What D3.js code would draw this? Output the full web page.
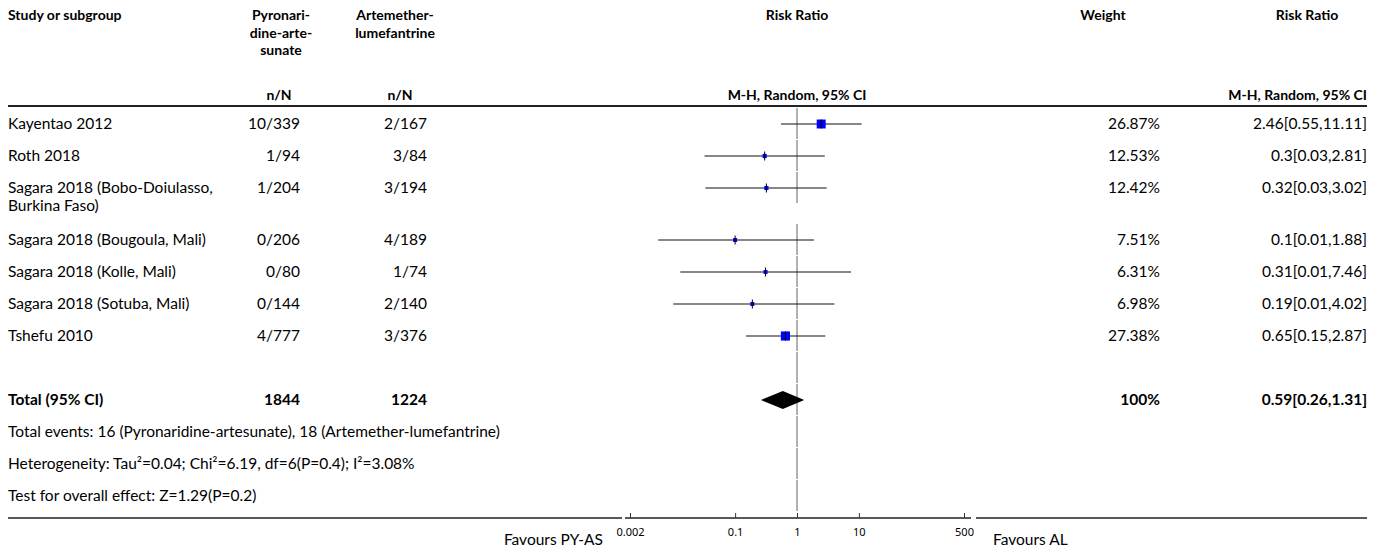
<!DOCTYPE html>
<html>
<head>
<meta charset="utf-8">
<script src="https://cdn.jsdelivr.net/npm/d3@7"></script>
<style>
  body { margin: 0; background: #fff; }
  svg text { font-family: "Source Sans Pro", Lato, "Noto Sans", sans-serif; fill: #000; }
</style>
</head>
<body>
<div id="chart"></div>
<script>
// study level data
var studies = ["Kayentao 2012", "Roth 2018", "Sagara 2018 (Bobo-Doiulasso, Burkina Faso)",
    "Sagara 2018 (Bougoula, Mali)", "Sagara 2018 (Kolle, Mali)", "Sagara 2018 (Sotuba, Mali)", "Tshefu 2010"]
var pyEvents = [10, 1, 1, 0, 0, 0, 4]
var pyTotal = [339, 94, 204, 206, 80, 144, 777]
var alEvents = [2, 3, 3, 4, 1, 2, 3]
var alTotal = [167, 84, 194, 189, 74, 140, 376]
var weights = [26.87, 12.53, 12.42, 7.51, 6.31, 6.98, 27.38]
var rr = [2.46, 0.3, 0.32, 0.1, 0.31, 0.19, 0.65]
// lower limits (printed rounded to 2 decimals)
var rrLow = [0.55, 0.032, 0.033, 0.0057, 0.013, 0.01, 0.15]
var rrHigh = [11.11, 2.81, 3.02, 1.88, 7.46, 4.02, 2.87]

// pooled
var totalPy = 1844, totalAl = 1224
var pooled = [0.59, 0.26, 1.31]
var footNotes = [
    "Total events: 16 (Pyronaridine-artesunate), 18 (Artemether-lumefantrine)",
    "Heterogeneity: Tau²=0.04; Chi²=6.19, df=6(P=0.4); I²=3.08%",
    "Test for overall effect: Z=1.29(P=0.2)"
]
var axisTicks = [0.002, 0.1, 1, 10, 500]
var favours = ["Favours PY-AS", "Favours AL"]

var W = 1375, H = 550
var fs = 15.5, hfs = 14
var col = {name: 8, py: 300, al: 427, plot: 797, wt: 1160, rr: 1367}
var rowH = 32, firstRowY = 108

function r2(v){ return +v.toFixed(2) }
function ciText(a, b, c){ return r2(a) + "[" + r2(b) + "," + r2(c) + "]" }

var svg = d3.select("#chart").append("svg").attr("width", W).attr("height", H)

var x = d3.scaleLog().domain([0.002, 500]).range([630, 964])

// header
var hdr = svg.append("g").style("font-weight", "bold").style("font-size", hfs + "px")
function hText(tx, ty, s, anchor){
    hdr.append("text").attr("x", tx).attr("y", ty).attr("text-anchor", anchor).text(s)
}
hText(col.name, 20, "Study or subgroup", "start")
;["Pyronari-", "dine-arte-", "sunate"].forEach(function(s, i){ hText(281, 20 + i * 17.5, s, "middle") })
;["Artemether-", "lumefantrine"].forEach(function(s, i){ hText(395, 20 + i * 17.5, s, "middle") })
hText(col.plot, 20, "Risk Ratio", "middle")
hText(1103, 20, "Weight", "middle")
hText(1307, 20, "Risk Ratio", "middle")
hText(279, 100, "n/N", "middle")
hText(400, 100, "n/N", "middle")
hText(col.plot, 100, "M-H, Random, 95% CI", "middle")
hText(col.rr, 100, "M-H, Random, 95% CI", "end")

svg.append("line").attr("x1", 8).attr("x2", 1367).attr("y1", 106).attr("y2", 106)
    .attr("stroke", "#222").attr("stroke-width", 2)

// row layout
var rowTops = []
var y0 = firstRowY
studies.forEach(function(s, i){
    rowTops.push(y0)
    y0 += (s.length > 32 ? 52 : rowH)
})
var blankTop = y0
var totalTop = y0 + rowH
var footTops = footNotes.map(function(d, i){ return totalTop + rowH * (i + 1) })

// null line, drawn per row
var segTops = rowTops.concat([blankTop, totalTop]).concat(footTops)
svg.append("g").selectAll("line").data(segTops).enter().append("line")
    .attr("x1", x(1)).attr("x2", x(1))
    .attr("y1", function(d){ return d }).attr("y2", function(d){ return d + rowH - 1 })
    .attr("stroke", "#999").attr("stroke-width", 1.5)

// study rows
var rows = svg.append("g").style("font-size", fs + "px")
studies.forEach(function(s, i){
    var cy = rowTops[i] + 16
    var ty = cy + 5
    // wrap long names
    var words = s.split(" "), lines = [], cur = ""
    words.forEach(function(w){
        if((cur + " " + w).trim().length > 29 && cur){ lines.push(cur); cur = w }
        else cur = (cur + " " + w).trim()
    })
    lines.push(cur)
    lines.forEach(function(l, j){
        rows.append("text").attr("x", col.name).attr("y", ty + j * 18).text(l)
    })
    rows.append("text").attr("x", col.py).attr("y", ty).attr("text-anchor", "end").text(pyEvents[i] + "/" + pyTotal[i])
    rows.append("text").attr("x", col.al).attr("y", ty).attr("text-anchor", "end").text(alEvents[i] + "/" + alTotal[i])
    rows.append("text").attr("x", col.wt).attr("y", ty).attr("text-anchor", "end").text(weights[i] + "%")
    rows.append("text").attr("x", col.rr).attr("y", ty).attr("text-anchor", "end")
        .text(ciText(rr[i], rrLow[i], rrHigh[i]))

    // CI line
    rows.append("line").attr("x1", x(rrLow[i])).attr("x2", x(rrHigh[i]))
        .attr("y1", cy).attr("y2", cy).attr("stroke", "#111").attr("stroke-width", 1.2)
    var sz = Math.max(4, weights[i] / 3)
    rows.append("rect").attr("x", x(rr[i]) - sz / 2).attr("y", cy - sz / 2)
        .attr("width", sz).attr("height", sz).attr("fill", "#0000ff")
    rows.append("line").attr("x1", x(rr[i])).attr("x2", x(rr[i]))
        .attr("y1", cy - 4.5).attr("y2", cy + 4.5).attr("stroke", "#000").attr("stroke-width", 1)
})

// total row
var tcy = totalTop + 16
var tot = svg.append("g").style("font-size", fs + "px").style("font-weight", "bold")
tot.append("text").attr("x", col.name).attr("y", tcy + 5).text("Total (95% CI)")
tot.append("text").attr("x", col.py).attr("y", tcy + 5).attr("text-anchor", "end").text(totalPy)
tot.append("text").attr("x", col.al).attr("y", tcy + 5).attr("text-anchor", "end").text(totalAl)
tot.append("text").attr("x", col.wt).attr("y", tcy + 5).attr("text-anchor", "end").text(d3.sum(weights).toFixed(0) + "%")
tot.append("text").attr("x", col.rr).attr("y", tcy + 5).attr("text-anchor", "end")
    .text(ciText(pooled[0], pooled[1], pooled[2]))
svg.append("path")
    .attr("d", "M" + x(pooled[1]) + "," + tcy + "L" + x(pooled[0]) + "," + (tcy - 9) +
        "L" + x(pooled[2]) + "," + tcy + "L" + x(pooled[0]) + "," + (tcy + 9) + "Z")
    .attr("fill", "#000")

// foot notes
svg.append("g").style("font-size", fs + "px").selectAll("text").data(footNotes).enter().append("text")
    .attr("x", col.name).attr("y", function(d, i){ return footTops[i] + 21 }).text(function(d){ return d })

// bottom axis
var axY = 518
svg.append("line").attr("x1", 8).attr("x2", 622).attr("y1", axY).attr("y2", axY).attr("stroke", "#222").attr("stroke-width", 1.5)
svg.append("line").attr("x1", 976).attr("x2", 1367).attr("y1", axY).attr("y2", axY).attr("stroke", "#222").attr("stroke-width", 1.5)
svg.append("line").attr("x1", 625).attr("x2", 971).attr("y1", axY).attr("y2", axY).attr("stroke", "#222").attr("stroke-width", 1.5)

var ax = svg.append("g").attr("transform", "translate(0," + axY + ")")
    .call(d3.axisBottom(x).tickValues(axisTicks).tickSize(-5).tickPadding(10)
        .tickFormat(function(d){ return String(d) }))
ax.select(".domain").remove()
ax.selectAll("text").style("font-size", "11px").style("font-family", "\"Noto Sans\", sans-serif")
ax.selectAll("line").attr("stroke", "#333")

svg.append("text").attr("x", 603).attr("y", 545).attr("text-anchor", "end").style("font-size", fs + "px").text(favours[0])
svg.append("text").attr("x", 993).attr("y", 545).style("font-size", fs + "px").text(favours[1])
</script>
</body>
</html>
